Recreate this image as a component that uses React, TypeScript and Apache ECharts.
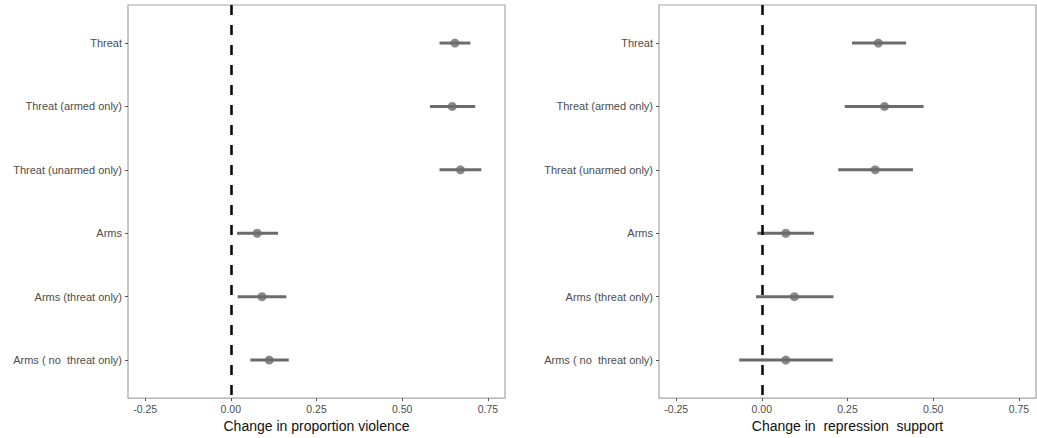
import React, { useEffect, useRef } from "react";
import * as echarts from "echarts";

const categories = [
  "Threat",
  "Threat (armed only)",
  "Threat (unarmed only)",
  "Arms",
  "Arms (threat only)",
  "Arms ( no  threat only)",
];

// Left panel: change in proportion violence
const violenceEst = [0.654, 0.646, 0.67, 0.077, 0.091, 0.112];
const violenceLo = [0.609, 0.581, 0.609, 0.018, 0.02, 0.057];
const violenceHi = [0.699, 0.713, 0.731, 0.138, 0.162, 0.169];

// Right panel: change in repression support
const repressionEst = [0.34, 0.358, 0.331, 0.07, 0.095, 0.07];
const repressionLo = [0.263, 0.242, 0.223, -0.013, -0.017, -0.066];
const repressionHi = [0.421, 0.472, 0.441, 0.152, 0.209, 0.207];

const xTicks = [-0.25, 0, 0.25, 0.5, 0.75];
const yTicks = [1, 2, 3, 4, 5, 6];

const xTitles = ["Change in proportion violence", "Change in  repression  support"];

const FONT = "Liberation Sans, Arial, sans-serif";
const GRAY = "#6b6b6b";

export default function App() {
  const ref = useRef<HTMLDivElement>(null);
  useEffect(() => {
    if (!ref.current) return;
    const chart = echarts.init(ref.current, null, { renderer: "svg" });

    const panels = [
      { est: violenceEst, lo: violenceLo, hi: violenceHi },
      { est: repressionEst, lo: repressionLo, hi: repressionHi },
    ];

    const grids = [
      { left: 128, right: 532, top: 5, bottom: 38 },
      { left: 659, right: 1, top: 5, bottom: 38 },
    ].map((g) => ({
      ...g,
      show: true,
      borderColor: "#a6a6a6",
      borderWidth: 1.2,
      backgroundColor: "#fff",
    }));

    const xAxes = [0, 1].map((i) => ({
      type: "value",
      gridIndex: i,
      min: -0.3,
      max: 0.8,
      name: xTitles[i],
      nameLocation: "middle",
      nameGap: 20,
      nameTextStyle: { fontSize: 14, color: "#111", fontFamily: FONT },
      axisLine: { show: false, onZero: false },
      splitLine: { show: false },
      axisTick: {
        show: true,
        customValues: xTicks,
        length: 3,
        lineStyle: { color: "#555" },
      },
      axisLabel: {
        customValues: xTicks,
        formatter: (v: number) => v.toFixed(2),
        fontSize: 10.5,
        color: "#4d4d4d",
        fontFamily: FONT,
        margin: 5,
      },
    }));

    const yAxes = [0, 1].map((i) => ({
      type: "value",
      gridIndex: i,
      inverse: true,
      min: 0.4,
      max: 6.6,
      axisLine: { show: false, onZero: false },
      splitLine: { show: false },
      axisTick: {
        show: true,
        customValues: yTicks,
        length: 3,
        lineStyle: { color: "#555" },
      },
      axisLabel: {
        customValues: yTicks,
        formatter: (v: number) => categories[Math.round(v) - 1] ?? "",
        fontSize: 11,
        color: "#4d4d4d",
        fontFamily: FONT,
        margin: 6,
      },
    }));

    const series: any[] = [];
    panels.forEach((p, i) => {
      series.push({
        type: "custom",
        xAxisIndex: i,
        yAxisIndex: i,
        data: p.lo.map((lo, k) => [lo, p.hi[k], k + 1]),
        encode: { x: [0, 1], y: 2 },
        renderItem: (params: any, api: any) => {
          const a = api.coord([api.value(0), api.value(2)]);
          const b = api.coord([api.value(1), api.value(2)]);
          return {
            type: "line",
            shape: { x1: a[0], y1: a[1], x2: b[0], y2: b[1] },
            style: { stroke: GRAY, lineWidth: 3 },
          };
        },
        z: 3,
      });
      series.push({
        type: "scatter",
        xAxisIndex: i,
        yAxisIndex: i,
        data: p.est.map((e, k) => [e, k + 1]),
        symbol: "circle",
        symbolSize: 9,
        itemStyle: { color: GRAY },
        z: 4,
        markLine: {
          silent: true,
          symbol: "none",
          label: { show: false },
          lineStyle: { color: "#000", width: 2.5, type: [10, 10] },
          data: [{ xAxis: 0 }],
          z: 5,
        },
      });
    });

    chart.setOption({
      animation: false,
      backgroundColor: "#fff",
      grid: grids,
      xAxis: xAxes,
      yAxis: yAxes,
      series,
    });
    return () => chart.dispose();
  }, []);

  return (
    <div
      ref={ref}
      style={{ position: "fixed", left: 0, top: 0, width: 1037, height: 438 }}
    />
  );
}
